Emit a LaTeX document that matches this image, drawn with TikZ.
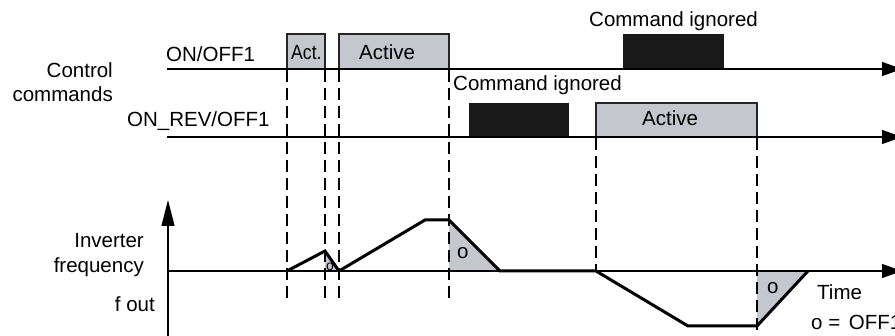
\documentclass[tikz,border=0pt]{standalone}
\usepackage{fontspec}
\usepackage{graphicx}
\setmainfont{Liberation Sans}
\usetikzlibrary{arrows.meta}
\definecolor{boxgray}{RGB}{196,199,206}
\begin{document}
\begin{tikzpicture}[x=1pt,y=-1pt,
  lbl/.style={inner sep=0pt,font=\fontsize{20.5}{24}\selectfont},
  axis/.style={line width=1.3pt},
  harrow/.style={axis,-{Triangle[length=20pt,width=14pt]}},
  varrow/.style={axis,-{Triangle[length=26pt,width=13pt]}},
  guide/.style={line width=1.4pt,dash pattern=on 12pt off 6pt},
  actbox/.style={draw=black!85,line width=1.3pt,fill=boxgray},
  ignbox/.style={fill=black!90},
  curve/.style={line width=3pt,line join=miter},
  offtri/.style={fill=boxgray}]
\useasboundingbox (0,0) rectangle (895,336);
\clip (0,0) rectangle (895,336);

% axes coordinates
\coordinate (l1s) at (167,69);  \coordinate (l1e) at (902,69);
\coordinate (l2s) at (167,137); \coordinate (l2e) at (902,137);
\coordinate (fs) at (168,271);  \coordinate (fe) at (902,271);
\coordinate (vs) at (168,340);  \coordinate (ve) at (168,200);

% gray OFF areas
\fill[offtri] (325,251) -- (339,271) -- (325,271) -- cycle;
\fill[offtri] (449,220) -- (500,271) -- (449,271) -- cycle;
\fill[offtri] (757,271) -- (808,271) -- (757,326) -- cycle;

% command boxes
\draw[actbox] (287,34) rectangle (325,69);
\draw[actbox] (339,34) rectangle (449,69);
\fill[ignbox] (623,34) rectangle (724,69);
\fill[ignbox] (469,103) rectangle (569,137);
\draw[actbox] (596,103) rectangle (757,137);

% dashed guides
\coordinate (g1t) at (287,70);  \coordinate (g1b) at (287,298);
\coordinate (g2t) at (325,70);  \coordinate (g2b) at (325,298);
\coordinate (g3t) at (339,70);  \coordinate (g3b) at (339,298);
\coordinate (g4t) at (449,70);  \coordinate (g4b) at (449,298);
\coordinate (g5t) at (596,138); \coordinate (g5b) at (596,271);
\coordinate (g6t) at (757,138); \coordinate (g6b) at (757,340);
\foreach \g in {1,...,6} \draw[guide] (g\g t) -- (g\g b);

% axes
\draw[harrow] (l1s) -- (l1e);
\draw[harrow] (l2s) -- (l2e);
\draw[harrow] (fs) -- (fe);
\draw[varrow] (vs) -- (ve);

% frequency curve
\draw[curve] (287,271) -- (325,251) -- (339,271) -- (425,220) -- (449,220)
  -- (500,271) -- (596,271) -- (688,326) -- (757,326) -- (808,271);

% labels
\node[lbl,anchor=base west] (onoff) at (166,62) {ON/OFF1};
\node[lbl,anchor=base east] (ctrl) at (113,78) {Control};
\node[lbl,anchor=base east] (cmds) at (113,102) {commands};
\node[lbl,anchor=base west] (onrev) at (127,127) {ON\_REV/OFF1};
\node[lbl,anchor=base west] (act1) at (291,60) {\scalebox{0.86}[1]{Act.}};
\node[lbl,anchor=base west] (act2) at (359,60) {Active};
\node[lbl,anchor=base west] (ign1) at (589,27) {Command ignored};
\node[lbl,anchor=base west] (ign2) at (453,91) {Command ignored};
\node[lbl,anchor=base west] (act3) at (642,126) {Active};
\node[lbl,anchor=base east] (inv) at (144,248) {Inverter};
\node[lbl,anchor=base east] (freq) at (144,273) {frequency};
\node[lbl,anchor=base east] (fout) at (155,312) {f out};
\node[lbl,anchor=base west] (time) at (817,300) {Time};
\node[lbl,anchor=base west] (legend) at (811,330) {o =\hspace{3pt} OFF1};
\node[lbl,anchor=base west] (o1) at (457,259) {o};
\node[lbl,anchor=base west] (o2) at (767,294) {o};
\node[inner sep=0pt,anchor=base west,font=\fontsize{14}{16}\selectfont] (o0) at (326,271) {o};
\end{tikzpicture}
\end{document}
